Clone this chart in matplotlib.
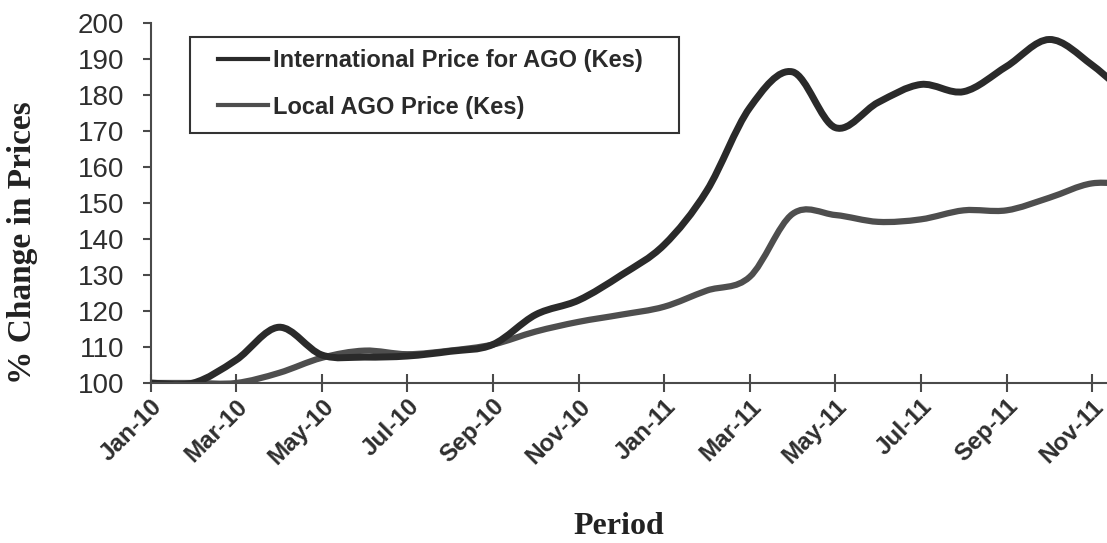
import matplotlib.pyplot as plt
from matplotlib.path import Path
from matplotlib.patches import PathPatch, Rectangle
from matplotlib.lines import Line2D
import numpy as np

# monthly index from Jan-10 (0) to Dec-11 (23)
months = ['Jan-10', 'Feb-10', 'Mar-10', 'Apr-10', 'May-10', 'Jun-10', 'Jul-10', 'Aug-10',
          'Sep-10', 'Oct-10', 'Nov-10', 'Dec-10', 'Jan-11', 'Feb-11', 'Mar-11', 'Apr-11',
          'May-11', 'Jun-11', 'Jul-11', 'Aug-11', 'Sep-11', 'Oct-11', 'Nov-11', 'Dec-11']
intl_price = [100, 100, 106.4, 115.5, 107.8, 107.2, 107.5, 108.8, 110.7, 119, 123, 130,
              138.4, 153.5, 176.5, 186.5, 171, 178, 183, 181, 188, 195.5, 188.4, 178]
local_price = [100, 100, 100, 102.8, 107, 109, 108, 109, 110.7, 114.3, 117, 119,
               121.2, 125.7, 129.5, 147, 146.7, 144.8, 145.5, 148, 148, 151.5, 155.5, 155]
tick_labels = months[::2]

INTL_COLOR = '#2a2a2a'
LOCAL_COLOR = '#4e4e4e'
W, H = 1107, 543


def smooth_path(xs, ys):
    # excel style smoothed line: cubic bezier through every point
    pts = np.column_stack([xs, ys]).astype(float)
    n = len(pts)
    verts = [pts[0]]
    codes = [Path.MOVETO]
    for i in range(n - 1):
        p0 = pts[i - 1] if i > 0 else pts[i]
        p1 = pts[i]
        p2 = pts[i + 1]
        p3 = pts[i + 2] if i + 2 < n else pts[i + 1]
        c1 = p1 + (p2 - p0) / 6
        c2 = p2 - (p3 - p1) / 6
        verts += [c1, c2, p2]
        codes += [Path.CURVE4] * 3
    return Path(verts, codes)


fig = plt.figure(figsize=(W / 100, H / 100), dpi=100)
ax_l, ax_t, ax_b = 150.5, 23.3, 383
ax = fig.add_axes([ax_l / W, 1 - ax_b / H, (W - ax_l) / W, (ax_b - ax_t) / H])


def px2ax(px, py):
    return (px - ax_l) / (W - ax_l), 1 - (py - ax_t) / (ax_b - ax_t)


x = np.arange(len(months))
ax.add_patch(PathPatch(smooth_path(x, local_price), fill=False, edgecolor=LOCAL_COLOR,
                       lw=4.5, capstyle='round', joinstyle='round'))
ax.add_patch(PathPatch(smooth_path(x, intl_price), fill=False, edgecolor=INTL_COLOR,
                       lw=5, capstyle='round', joinstyle='round'))

ax.set_xlim(0, (W - ax_l) / 42.8)
ax.set_ylim(100, 200)

for s in ['top', 'right']:
    ax.spines[s].set_visible(False)
for s in ['left', 'bottom']:
    ax.spines[s].set_color('#4a4a4a')
    ax.spines[s].set_linewidth(1.5)

ax.set_yticks(np.arange(100, 201, 10))
ax.tick_params(axis='y', direction='out', length=6, width=1.5, color='#4a4a4a',
               labelsize=20, labelcolor='#2e2e2e', pad=13)
ax.set_xticks(x[::2])
ax.set_xticklabels(tick_labels, rotation=45, ha='right', va='top', rotation_mode='anchor',
                   fontsize=17.5, fontweight='bold', color='#2e2e2e',
                   family=['Liberation Sans', 'DejaVu Sans'])
ax.tick_params(axis='x', direction='inout', length=13, width=1.5, color='#4a4a4a', pad=2)
for lab in ax.get_yticklabels():
    lab.set_family(['Liberation Sans', 'DejaVu Sans'])

ax.set_ylabel('% Change in Prices', fontsize=24, fontweight='bold',
              family=['Liberation Serif', 'DejaVu Serif'], color='#222222')
ax.yaxis.set_label_coords(-0.118, 0.39)
ax.set_xlabel('Period', fontsize=23, fontweight='bold',
              family=['Liberation Serif', 'DejaVu Serif'], color='#222222')
ax.xaxis.set_label_coords(0.49, -0.36)

# legend box drawn separately so its size matches the reference
bx0, by0 = px2ax(190, 133)
bx1, by1 = px2ax(679, 37)
ax.add_patch(Rectangle((bx0, by0), bx1 - bx0, by1 - by0, transform=ax.transAxes,
                       fill=False, edgecolor='#333333', lw=1.5, zorder=5))

handles = [Line2D([], [], color=INTL_COLOR, lw=3),
           Line2D([], [], color=LOCAL_COLOR, lw=3)]
lx, ly = px2ax(218, 49)
leg = ax.legend(handles, ['International Price for AGO (Kes)', 'Local AGO Price (Kes)'],
                loc='upper left', bbox_to_anchor=(lx, ly), borderaxespad=0, borderpad=0,
                frameon=False, handlelength=2.1, handletextpad=0.25,
                labelspacing=1.0,
                prop={'family': ['Liberation Sans', 'DejaVu Sans'],
                      'weight': 'bold', 'size': 17})
for t in leg.get_texts():
    t.set_color('#2a2a2a')

fig.savefig('out.png', dpi=100)
